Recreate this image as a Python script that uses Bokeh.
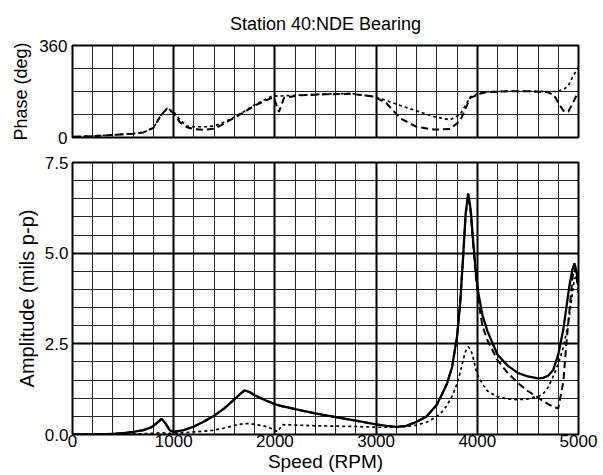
from bokeh.plotting import figure
from bokeh.layouts import column
from bokeh.models import Range1d, FixedTicker, ColumnDataSource
from bokeh.embed import file_html
from bokeh.resources import INLINE

# ---------------- data ----------------
title_text = "Station 40:NDE Bearing"
x_label = "Speed (RPM)"
phase_label = "Phase (deg)"
amp_label = "Amplitude (mils p-p)"

x_major = [0, 1000, 2000, 3000, 4000, 5000]
x_minor = [0, 200, 400, 600, 800, 1000, 1200, 1400, 1600, 1800, 2000, 2200, 2400,
           2600, 2800, 3000, 3200, 3400, 3600, 3800, 4000, 4200, 4400, 4600, 4800, 5000]
phase_ticks = [0, 360]
phase_grid = [0, 90, 180, 270, 360]
amp_ticks = [0, 2.5, 5, 7.5]
amp_tick_labels = ["0.0", "2.5", "5.0", "7.5"]
amp_minor = [0, 0.5, 1.0, 1.5, 2.0, 2.5, 3.0, 3.5, 4.0, 4.5, 5.0, 5.5, 6.0, 6.5, 7.0, 7.5]

amp_speed = [0, 200, 400, 500, 600, 700, 780, 840, 880, 920, 960, 1000, 1100, 1200,
             1300, 1400, 1500, 1600, 1650, 1700, 1750, 1800, 1900, 1980, 2000, 2030,
             2070, 2200, 2400, 2600, 2800, 3000, 3100, 3200, 3300, 3400, 3500, 3600,
             3650, 3700, 3750, 3800, 3830, 3860, 3885, 3910, 3935, 3960, 3985, 4010,
             4050, 4100, 4200, 4300, 4400, 4500, 4600, 4650, 4700, 4750, 4800, 4850,
             4880, 4910, 4940, 4960, 4980, 5000]
amp_solid = [0.0, 0.0, 0.02, 0.04, 0.07, 0.12, 0.2, 0.33, 0.43, 0.3, 0.12, 0.07, 0.12, 0.22,
             0.36, 0.52, 0.72, 0.97, 1.1, 1.22, 1.17, 1.08, 0.95, 0.86, 0.84, 0.81,
             0.78, 0.7, 0.58, 0.48, 0.38, 0.28, 0.24, 0.21, 0.24, 0.35, 0.5, 0.82,
             1.1, 1.4, 1.85, 2.7, 3.6, 4.9, 6.1, 6.65, 6.2, 5.3, 4.5, 3.9,
             3.3, 2.85, 2.2, 1.9, 1.7, 1.6, 1.55, 1.56, 1.62, 1.78, 2.2, 2.9,
             3.5, 4.1, 4.55, 4.72, 4.5, 4.1]
amp_dashed = [0.0, 0.0, 0.02, 0.04, 0.07, 0.12, 0.2, 0.33, 0.43, 0.3, 0.12, 0.07, 0.12, 0.22,
              0.36, 0.52, 0.72, 0.97, 1.1, 1.22, 1.17, 1.08, 0.95, 0.86, 0.84, 0.81,
              0.78, 0.7, 0.58, 0.48, 0.38, 0.28, 0.24, 0.21, 0.24, 0.35, 0.5, 0.82,
              1.1, 1.4, 1.85, 2.7, 3.6, 4.9, 6.05, 6.6, 6.1, 5.2, 4.4, 3.7,
              3.0, 2.6, 2.05, 1.7, 1.42, 1.2, 1.02, 0.92, 0.84, 0.76, 0.72, 1.45,
              2.5, 3.4, 4.3, 4.6, 4.35, 3.9]
amp_dotted = [0.0, 0.0, 0.01, 0.01, 0.02, 0.02, 0.03, 0.04, 0.05, 0.04, 0.03, 0.03, 0.05, 0.07,
              0.09, 0.12, 0.18, 0.25, 0.28, 0.3, 0.3, 0.28, 0.23, 0.15, 0.11, 0.08,
              0.27, 0.26, 0.24, 0.23, 0.22, 0.2, 0.2, 0.2, 0.22, 0.26, 0.34, 0.5,
              0.62, 0.8, 1.05, 1.4, 1.7, 2.05, 2.3, 2.42, 2.35, 2.1, 1.8, 1.6,
              1.4, 1.2, 1.04, 0.98, 0.96, 0.98, 1.05, 1.12, 1.3, 1.6, 1.95, 2.4,
              2.8, 3.3, 3.9, 4.3, 4.35, 4.2]

phase_speed = [0, 200, 400, 600, 700, 800, 870, 935, 1000, 1060, 1130, 1200, 1300, 1400,
               1500, 1600, 1700, 1800, 1900, 1960, 1990, 2040, 2090, 2250, 2500, 2750,
               2980, 3100, 3240, 3400, 3570, 3730, 3830, 3930, 4030, 4100, 4300, 4500,
               4700, 4760, 4800, 4860, 4900, 4940, 5000]
phase_dashed = [3, 5, 10, 15, 20, 38, 85, 114, 95, 60, 40, 33, 30, 34,
                55, 78, 100, 125, 143, 153, 156, 100, 155, 165, 169, 171,
                160, 135, 75, 42, 31, 33, 65, 155, 172, 178, 181, 181,
                177, 165, 135, 100, 102, 132, 180]
phase_dotted = [3, 6, 10, 15, 20, 38, 85, 114, 100, 70, 45, 42, 42, 45,
                60, 80, 103, 128, 148, 160, 163, 162, 163, 166, 170, 172,
                160, 145, 125, 104, 82, 69, 90, 158, 176, 179, 181, 181,
                180, 180, 182, 190, 203, 236, 275]

# ---------------- styling helpers ----------------
FONT = "Liberation Sans"
W = 603
MINOR = "#262626"


def style_common(p):
    p.outline_line_color = "black"
    p.outline_line_width = 2
    p.background_fill_color = "white"
    p.border_fill_color = "white"
    p.xgrid.ticker = FixedTicker(ticks=x_major, minor_ticks=x_minor)
    p.xgrid.grid_line_color = "black"
    p.xgrid.grid_line_width = 2
    p.xgrid.minor_grid_line_color = MINOR
    p.xgrid.minor_grid_line_width = 1
    for ax in list(p.xaxis) + list(p.yaxis):
        ax.axis_line_color = None
        ax.major_tick_line_color = None
        ax.minor_tick_line_color = None
        ax.major_tick_out = 0
        ax.major_tick_in = 0
        ax.major_label_text_font = FONT
        ax.major_label_text_font_size = "17px"
        ax.major_label_text_color = "black"
        ax.axis_label_text_font = FONT
        ax.axis_label_text_font_style = "normal"
        ax.axis_label_text_color = "black"


# ---------------- phase plot ----------------
p1 = figure(width=W, height=150, output_backend="svg", toolbar_location=None,
            x_range=Range1d(0, 5000), y_range=Range1d(0, 360),
            min_border_left=72, min_border_right=25, min_border_top=45, min_border_bottom=13)
p1.title.text = title_text
p1.title.align = "center"
p1.title.text_font = FONT
p1.title.text_font_size = "18px"
p1.title.text_font_style = "normal"
p1.title.text_color = "black"
p1.title.standoff = 23
style_common(p1)
p1.xaxis.visible = False
p1.yaxis.ticker = FixedTicker(ticks=phase_ticks)
p1.ygrid.ticker = FixedTicker(ticks=phase_grid)
p1.ygrid.grid_line_color = MINOR
p1.ygrid.grid_line_width = 1
p1.yaxis.axis_label = phase_label
p1.yaxis.axis_label_text_font_size = "18px"
p1.yaxis.major_label_standoff = 5
p1.yaxis.axis_label_standoff = 5

ps = ColumnDataSource(dict(x=phase_speed, dash=phase_dashed, dot=phase_dotted))
p1.line("x", "dash", source=ps, line_color="black", line_width=2, line_dash="7 4")
p1.line("x", "dot", source=ps, line_color="black", line_width=1.7, line_dash="3 3")

# ---------------- amplitude plot ----------------
p2 = figure(width=W, height=325, output_backend="svg", toolbar_location=None,
            x_range=Range1d(0, 5000), y_range=Range1d(0, 7.5),
            min_border_left=72, min_border_right=25, min_border_top=12, min_border_bottom=41)
style_common(p2)
p2.xaxis.ticker = FixedTicker(ticks=x_major)
p2.yaxis.ticker = FixedTicker(ticks=amp_ticks)
p2.yaxis.major_label_overrides = dict(zip(amp_ticks, amp_tick_labels))
p2.ygrid.ticker = FixedTicker(ticks=amp_ticks, minor_ticks=amp_minor)
p2.ygrid.grid_line_color = "black"
p2.ygrid.grid_line_width = 2
p2.ygrid.minor_grid_line_color = MINOR
p2.ygrid.minor_grid_line_width = 1
p2.yaxis.axis_label = amp_label
p2.yaxis.axis_label_text_font_size = "20px"
p2.yaxis.major_label_standoff = 4
p2.yaxis.axis_label_standoff = 4
p2.xaxis.axis_label = x_label
p2.xaxis.axis_label_text_font_size = "19px"
p2.xaxis.major_label_standoff = 0
p2.xaxis.axis_label_standoff = 1

asrc = ColumnDataSource(dict(x=amp_speed, s=amp_solid, d=amp_dashed, t=amp_dotted))
p2.line("x", "t", source=asrc, line_color="black", line_width=1.7, line_dash="3 3")
p2.line("x", "d", source=asrc, line_color="black", line_width=2, line_dash="7 4")
p2.line("x", "s", source=asrc, line_color="black", line_width=2.3)

layout = column(p1, p2, spacing=0)
open("out.html", "w").write(file_html(layout, INLINE))
